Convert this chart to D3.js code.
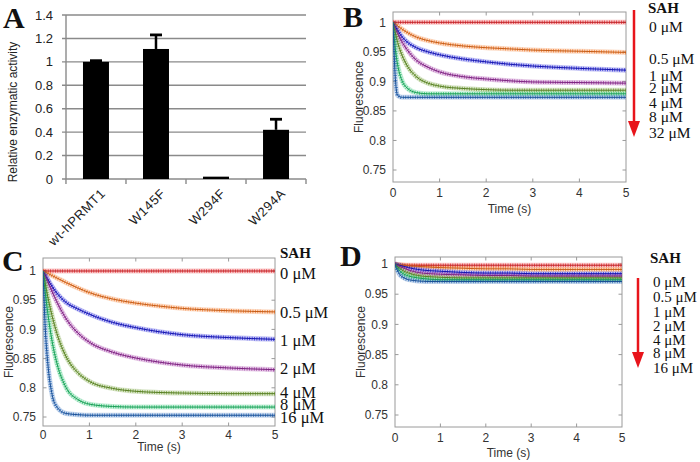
<!DOCTYPE html>
<html>
<head>
<meta charset="utf-8">
<script src="https://cdn.jsdelivr.net/npm/d3@7"></script>
<style>
  body { margin: 0; background: #fff; }
  svg { display: block; }
</style>
</head>
<body>
<div id="chart"></div>
<script>
// ---- panel A data
const mutants = ["wt-hPRMT1", "W145F", "W294F", "W294A"];
const activity = [1.0, 1.11, 0.02, 0.42];
const activityErr = [0.01, 0.12, 0.0, 0.09];
const activityTicks = [0, 0.2, 0.4, 0.6, 0.8, 1, 1.2, 1.4];

// ---- kinetics data (time in s, fluorescence)
const times = [0, 0.05, 0.1, 0.2, 0.3, 0.5, 0.75, 1, 1.5, 2, 2.5, 3, 4, 5];
const timeTicks = [0, 1, 2, 3, 4, 5];
const fluoTicks = [0.75, 0.8, 0.85, 0.9, 0.95, 1];

const seriesB = [
  [1, 1, 1, 1, 1, 1, 1, 1, 1, 1, 1, 1, 1, 1],
  [1, 0.997, 0.994, 0.988, 0.983, 0.975, 0.969, 0.965, 0.96, 0.957, 0.955, 0.953, 0.951, 0.949],
  [1, 0.993, 0.986, 0.975, 0.967, 0.957, 0.95, 0.945, 0.938, 0.933, 0.929, 0.926, 0.922, 0.919],
  [1, 0.99, 0.981, 0.966, 0.954, 0.936, 0.924, 0.916, 0.908, 0.904, 0.901, 0.899, 0.898, 0.897],
  [1, 0.982, 0.966, 0.943, 0.927, 0.908, 0.897, 0.892, 0.888, 0.886, 0.885, 0.885, 0.885, 0.885],
  [1, 0.955, 0.928, 0.9, 0.889, 0.881, 0.879, 0.879, 0.879, 0.879, 0.879, 0.879, 0.879, 0.879],
  [1, 0.905, 0.876, 0.873, 0.873, 0.873, 0.873, 0.873, 0.873, 0.873, 0.873, 0.873, 0.873, 0.873]
];
const labelsB = ["0 μM", "0.5 μM", "1 μM", "2 μM", "4 μM", "8 μM", "32 μM"];

const seriesC = [
  [1, 1, 1, 1, 1, 1, 1, 1, 1, 1, 1, 1, 1, 1],
  [1, 0.998, 0.996, 0.992, 0.988, 0.98, 0.971, 0.963, 0.952, 0.945, 0.94, 0.936, 0.932, 0.93],
  [1, 0.993, 0.986, 0.973, 0.962, 0.946, 0.935, 0.926, 0.912, 0.903, 0.896, 0.891, 0.886, 0.883],
  [1, 0.991, 0.982, 0.964, 0.947, 0.918, 0.894, 0.878, 0.861, 0.851, 0.844, 0.839, 0.834, 0.831],
  [1, 0.978, 0.957, 0.922, 0.893, 0.853, 0.826, 0.811, 0.799, 0.794, 0.792, 0.791, 0.79, 0.79],
  [1, 0.962, 0.93, 0.878, 0.842, 0.8, 0.78, 0.772, 0.768, 0.767, 0.767, 0.767, 0.767, 0.767],
  [1, 0.9, 0.845, 0.787, 0.767, 0.756, 0.754, 0.753, 0.753, 0.753, 0.753, 0.753, 0.753, 0.753]
];
const labelsC = ["0 μM", "0.5 μM", "1 μM", "2 μM", "4 μM", "8 μM", "16 μM"];

const seriesD = [
  [1, 0.999, 0.998, 0.998, 0.998, 0.998, 0.998, 0.998, 0.998, 0.998, 0.998, 0.998, 0.998, 0.998],
  [1, 0.999, 0.999, 0.998, 0.997, 0.996, 0.995, 0.994, 0.993, 0.992, 0.992, 0.991, 0.991, 0.991],
  [1, 0.999, 0.998, 0.996, 0.994, 0.991, 0.989, 0.988, 0.986, 0.985, 0.985, 0.984, 0.984, 0.984],
  [1, 0.998, 0.996, 0.993, 0.99, 0.986, 0.984, 0.983, 0.982, 0.981, 0.981, 0.98, 0.98, 0.98],
  [1, 0.996, 0.993, 0.988, 0.985, 0.981, 0.979, 0.978, 0.977, 0.977, 0.977, 0.977, 0.977, 0.977],
  [1, 0.994, 0.989, 0.983, 0.98, 0.977, 0.975, 0.974, 0.974, 0.974, 0.974, 0.974, 0.974, 0.974],
  [1, 0.99, 0.983, 0.977, 0.974, 0.972, 0.971, 0.971, 0.971, 0.971, 0.971, 0.971, 0.971, 0.971]
];
const labelsD = ["0 μM", "0.5 μM", "1 μM", "2 μM", "4 μM", "8 μM", "16 μM"];

const colors = ["#e8262b", "#f3731f", "#1b1bd6", "#9a2e9e", "#6d9c2e", "#22c06b", "#2163b8"];

// ---- drawing
const W = 700, H = 462;
const svg = d3.select("#chart").append("svg").attr("width", W).attr("height", H);
const sans = "'Liberation Sans', Arial, sans-serif";
const serif = "'Liberation Serif', 'Times New Roman', serif";

function panelLetter(txt, x, y) {
  svg.append("text").attr("x", x).attr("y", y).text(txt)
    .attr("font-family", serif).attr("font-weight", "bold").attr("font-size", 30).attr("fill", "#111");
}

// Panel A
const xA = d3.scaleBand().domain(mutants).range([66, 306]).paddingInner(0.567).paddingOuter(0.283);
const yA = d3.scaleLinear().domain([0, 1.4]).range([179, 15]);
const gA = svg.append("g");

gA.selectAll(".grid").data(activityTicks.filter(d => d > 0)).enter().append("line")
  .attr("x1", 62).attr("x2", 306).attr("y1", d => yA(d)).attr("y2", d => yA(d))
  .attr("stroke", "#8a8a8a").attr("stroke-width", 1.4);
gA.append("line").attr("x1", 66).attr("x2", 66).attr("y1", yA(1.4)).attr("y2", yA(0))
  .attr("stroke", "#8a8a8a").attr("stroke-width", 1.4);
gA.append("line").attr("x1", 62).attr("x2", 306).attr("y1", yA(0)).attr("y2", yA(0))
  .attr("stroke", "#8a8a8a").attr("stroke-width", 1.4);
const bounds = mutants.map(m => xA(m) - xA.step() * xA.paddingInner() / 2).concat([306]);
gA.selectAll(".xt").data(bounds).enter().append("line")
  .attr("x1", d => d).attr("x2", d => d).attr("y1", yA(0)).attr("y2", yA(0) + 5)
  .attr("stroke", "#8a8a8a").attr("stroke-width", 1.4);
gA.selectAll(".yl").data(activityTicks).enter().append("text")
  .attr("x", 53).attr("y", d => yA(d)).attr("dy", "0.35em").attr("text-anchor", "end")
  .attr("font-family", sans).attr("font-size", 13).attr("fill", "#222").text(d => d);

gA.selectAll(".bar").data(activity).enter().append("rect")
  .attr("x", (d, i) => xA(mutants[i])).attr("width", xA.bandwidth())
  .attr("y", d => yA(d)).attr("height", d => yA(0) - yA(d)).attr("fill", "#000");
activity.forEach((v, i) => {
  if (activityErr[i] <= 0) return;
  const cx = xA(mutants[i]) + xA.bandwidth() / 2;
  gA.append("line").attr("x1", cx).attr("x2", cx).attr("y1", yA(v)).attr("y2", yA(v + activityErr[i]))
    .attr("stroke", "#000").attr("stroke-width", 2.5);
  gA.append("line").attr("x1", cx - 6).attr("x2", cx + 6)
    .attr("y1", yA(v + activityErr[i])).attr("y2", yA(v + activityErr[i]))
    .attr("stroke", "#000").attr("stroke-width", 2.8);
});
gA.selectAll(".xl").data(mutants).enter().append("text")
  .attr("transform", d => `translate(${xA(d) + xA.bandwidth() / 2 + 7},${yA(0) + 12}) rotate(-45)`)
  .attr("text-anchor", "end").attr("dy", "0.35em").attr("letter-spacing", 0.6)
  .attr("font-family", sans).attr("font-size", 13).attr("fill", "#222").text(d => d);
gA.append("text").attr("transform", `translate(17,112) rotate(-90)`)
  .attr("text-anchor", "middle").attr("font-family", sans).attr("font-size", 12).attr("fill", "#222")
  .text("Relative enzymatic activity");
panelLetter("A", 3, 28);

// kinetic panels
function kinetic(cfg) {
  const x = d3.scaleLinear().domain([0, 5]).range([cfg.left, cfg.right]);
  const y = d3.scaleLinear().domain([0.75, 1]).range(cfg.yRange);
  const g = svg.append("g");
  const clipId = "clip" + cfg.name;
  g.append("clipPath").attr("id", clipId).append("rect")
    .attr("x", cfg.left).attr("y", cfg.top).attr("width", cfg.right - cfg.left).attr("height", cfg.bottom - cfg.top);

  g.append("rect").attr("x", cfg.left).attr("y", cfg.top)
    .attr("width", cfg.right - cfg.left).attr("height", cfg.bottom - cfg.top)
    .attr("fill", "#fff").attr("stroke", "#9a9a9a").attr("stroke-width", 1);

  // inside ticks on all four sides
  g.selectAll(".tb").data(timeTicks.slice(1, -1)).enter().append("path")
    .attr("d", d => `M${x(d)},${cfg.bottom}v-3.5M${x(d)},${cfg.top}v3.5`)
    .attr("stroke", "#9a9a9a");
  g.selectAll(".tl").data(fluoTicks).enter().append("path")
    .attr("d", d => `M${cfg.left},${y(d)}h3.5M${cfg.right},${y(d)}h-3.5`)
    .attr("stroke", "#9a9a9a");

  g.selectAll(".xl").data(timeTicks).enter().append("text")
    .attr("x", d => x(d)).attr("y", cfg.bottom + cfg.tickGap).attr("text-anchor", "middle")
    .attr("font-family", sans).attr("font-size", 12).attr("fill", "#333").text(d => d);
  g.selectAll(".yl").data(fluoTicks).enter().append("text")
    .attr("x", cfg.left - 7).attr("y", d => y(d)).attr("dy", "0.35em").attr("text-anchor", "end")
    .attr("font-family", sans).attr("font-size", 12).attr("fill", "#333").text(d => d);
  g.append("text").attr("x", (cfg.left + cfg.right) / 2).attr("y", cfg.bottom + cfg.titleGap)
    .attr("text-anchor", "middle").attr("font-family", sans).attr("font-size", 12).attr("fill", "#333")
    .text("Time (s)");
  g.append("text").attr("transform", `translate(${cfg.left - 30},${(cfg.top + cfg.bottom) / 2}) rotate(-90)`)
    .attr("text-anchor", "middle").attr("font-family", sans).attr("font-size", 12).attr("fill", "#333")
    .text("Fluorescence");

  const line = d3.line().curve(d3.curveMonotoneX).x((d, i) => x(times[i])).y(d => y(d));
  const traces = g.append("g").attr("clip-path", `url(#${clipId})`);
  cfg.series.forEach((s, i) => {
    traces.append("path").datum(s).attr("d", line).attr("fill", "none")
      .attr("stroke", colors[i]).attr("stroke-width", 5).attr("stroke-opacity", 0.25);
    traces.append("path").datum(s).attr("d", line).attr("fill", "none")
      .attr("stroke", colors[i]).attr("stroke-width", 3.5).attr("stroke-dasharray", "0.8 1.6")
      .attr("stroke-opacity", 0.85);
  });
  cfg.series.forEach((s, i) => {
    traces.append("path").datum(s).attr("d", line).attr("fill", "none")
      .attr("stroke", d3.color(colors[i]).darker(0.6)).attr("stroke-width", 1);
  });

  // legend
  const lg = g.append("g").attr("font-family", serif).attr("fill", "#111");
  lg.append("text").attr("x", cfg.legX).attr("y", cfg.sahY).attr("font-weight", "bold")
    .attr("font-size", 15).text("SAH");
  lg.selectAll(".lab").data(cfg.labels).enter().append("text")
    .attr("x", cfg.legX + (cfg.labDx || 0)).attr("y", (d, i) => cfg.labY[i])
    .attr("font-size", cfg.labSize).text(d => d);
  if (cfg.arrow) {
    const a = cfg.arrow;
    lg.append("line").attr("x1", a.x).attr("x2", a.x).attr("y1", a.y0).attr("y2", a.y1 - 12)
      .attr("stroke", "#e8141b").attr("stroke-width", 2.5);
    lg.append("path").attr("d", `M${a.x - 6},${a.y1 - 16}L${a.x + 6},${a.y1 - 16}L${a.x},${a.y1}Z`)
      .attr("fill", "#e8141b");
  }
}

kinetic({
  name: "B", left: 393, right: 626, top: 12, bottom: 182, yRange: [170, 22.3], tickGap: 15, titleGap: 31,
  series: seriesB, labels: labelsB, legX: 648, sahY: 13, labDx: 1, labSize: 15.5,
  labY: [32, 64, 81, 93, 108, 122, 138], arrow: { x: 634, y0: 10, y1: 137 }
});
kinetic({
  name: "C", left: 43, right: 275, top: 258, bottom: 426, yRange: [417, 271], tickGap: 13, titleGap: 25,
  series: seriesC, labels: labelsC, legX: 280, sahY: 258, labDx: 0, labSize: 16.5,
  labY: [279, 318, 346, 374, 398, 410, 423]
});
kinetic({
  name: "D", left: 395, right: 622, top: 257, bottom: 427, yRange: [415, 264], tickGap: 15, titleGap: 30,
  series: seriesD, labels: labelsD, legX: 650, sahY: 263, labDx: 3, labSize: 15,
  labY: [287, 302, 317, 331, 345, 358, 373], arrow: { x: 638, y0: 278, y1: 368 }
});

panelLetter("B", 343, 27);
panelLetter("C", 2, 271);
panelLetter("D", 340, 266);
</script>
</body>
</html>
